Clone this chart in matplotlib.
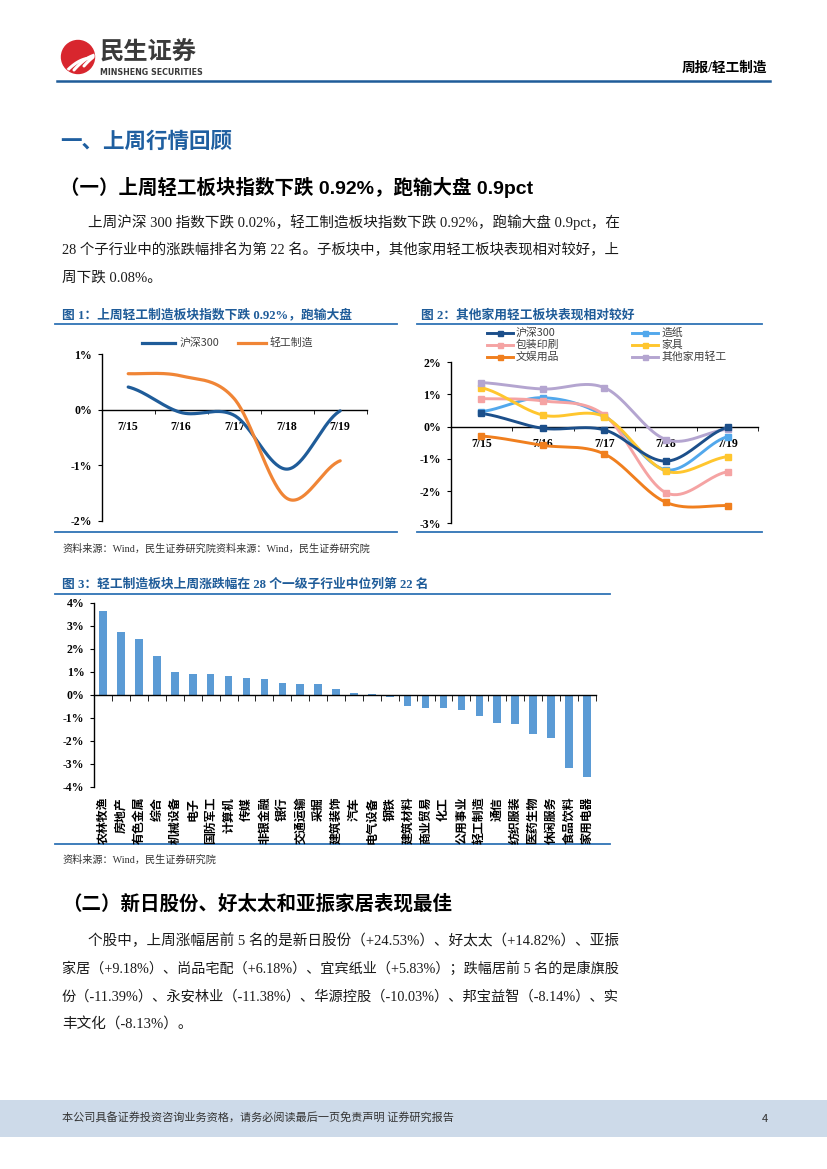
"""
Weekly light-industry report page: three charts plus surrounding text.
"""
import numpy as np
import matplotlib
matplotlib.use("Agg")
import matplotlib.pyplot as plt
import matplotlib.transforms as mtransforms
from matplotlib.patches import Circle, Rectangle

W, H = 827, 1169

plt.rcParams['font.family'] = ['Noto Sans CJK SC', 'DejaVu Sans']
plt.rcParams['axes.unicode_minus'] = False

SERIF = ['Liberation Serif', 'Noto Sans CJK SC']
SANS = ['Liberation Sans', 'Noto Sans CJK SC']

# ---- data ----
dates = ['7/15', '7/16', '7/17', '7/18', '7/19']

fig1_names = ['沪深300', '轻工制造']
fig1_hs300 = [0.41, -0.05, -0.10, -1.07, -0.02]
fig1_light = [0.65, 0.61, 0.20, -1.60, -0.92]

fig2_names = ['沪深300', '造纸', '包装印刷', '家具', '文娱用品', '其他家用轻工']
fig2_hs300 = [0.41, -0.05, -0.10, -1.07, -0.02]
fig2_paper = [0.47, 0.90, 0.33, -1.34, -0.31]
fig2_pack = [0.87, 0.80, 0.36, -2.05, -1.40]
fig2_furn = [1.21, 0.36, 0.31, -1.38, -0.93]
fig2_ent = [-0.29, -0.58, -0.85, -2.35, -2.45]
fig2_other = [1.37, 1.17, 1.21, -0.40, -0.08]

industries = ['农林牧渔', '房地产', '有色金属', '综合', '机械设备', '电子', '国防军工',
              '计算机', '传媒', '非银金融', '银行', '交通运输', '采掘', '建筑装饰',
              '汽车', '电气设备', '钢铁', '建筑材料', '商业贸易', '化工', '公用事业',
              '轻工制造', '通信', '纺织服装', '医药生物', '休闲服务', '食品饮料', '家用电器']
industry_chg = [3.62, 2.72, 2.42, 1.70, 1.00, 0.91, 0.90, 0.81, 0.71, 0.70, 0.49,
                0.48, 0.45, 0.26, 0.07, 0.04, -0.12, -0.51, -0.57, -0.59, -0.67,
                -0.92, -1.23, -1.26, -1.72, -1.90, -3.19, -3.57]

fig1_colors = ['#1F5C99', '#F08536']
fig2_colors = ['#1C4F8A', '#52A8EC', '#F5A3A3', '#FFC62E', '#F07F1E', '#B4A5D0']

para1 = ['上周沪深 300 指数下跌 0.02%，轻工制造板块指数下跌 0.92%，跑输大盘 0.9pct，在',
         '28 个子行业中的涨跌幅排名为第 22 名。子板块中，其他家用轻工板块表现相对较好，上',
         '周下跌 0.08%。']
para2 = ['个股中，上周涨幅居前 5 名的是新日股份（+24.53%）、好太太（+14.82%）、亚振',
         '家居（+9.18%）、尚品宅配（+6.18%）、宜宾纸业（+5.83%）；跌幅居前 5 名的是康旗股',
         '份（-11.39%）、永安林业（-11.38%）、华源控股（-10.03%）、邦宝益智（-8.14%）、实',
         '丰文化（-8.13%）。']


def smooth(y, n=40):
    """Catmull-Rom path through the points, like Excel's smoothed line."""
    p = np.concatenate([[y[0]], np.asarray(y, float), [y[-1]]])
    xs, ys = [], []
    t = np.linspace(0, 1, n)
    for i in range(len(y) - 1):
        p0, p1, p2, p3 = p[i], p[i + 1], p[i + 2], p[i + 3]
        seg = 0.5 * (2 * p1 + (-p0 + p2) * t + (2 * p0 - 5 * p1 + 4 * p2 - p3) * t ** 2
                     + (-p0 + 3 * p1 - 3 * p2 + p3) * t ** 3)
        xs.append(i + t)
        ys.append(seg)
    return np.concatenate(xs), np.concatenate(ys)


def px_axes(x0, y0, x1, y1):
    return fig.add_axes([x0 / W, 1 - y1 / H, (x1 - x0) / W, (y1 - y0) / H])


def pct(v, _):
    return '%d%%' % v


def paragraph(lines, y0, right=620, size=10.5, step=28):
    """Write justified-looking lines: shrink a full line to end at the right margin."""
    renderer = fig.canvas.get_renderer()
    for i, line in enumerate(lines):
        x0 = 88 if i == 0 else 62
        t = page.text(x0, y0 + step * i, line, fontsize=size, family=SERIF,
                      va='center', color='#1A1A1A')
        if i < len(lines) - 1:
            width = t.get_window_extent(renderer).width
            t.set_fontsize(size * (right - x0) / width)


fig = plt.figure(figsize=(W / 100, H / 100), dpi=100)

# page layer in pixel coordinates
page = fig.add_axes([0, 0, 1, 1])
page.set_xlim(0, W)
page.set_ylim(H, 0)
page.axis('off')

# header
logo = Circle((78, 57), 16.5, color='#D8262E')
page.add_patch(logo)
for k in range(3):
    s = np.linspace(0, 1, 30)
    lx = 64 + 10 * k + 26 * s
    ly = 74 - 4 * k - 30 * s + 14 * s ** 2
    ln, = page.plot(lx, ly, color='white', lw=2.2, solid_capstyle='round')
    ln.set_clip_path(logo)
page.text(100, 53, '民生证券', fontsize=17.5, fontweight='bold', color='#3A3A3A',
          va='center', ha='left')
page.text(100, 72.5, 'MINSHENG SECURITIES', fontsize=5.7, fontweight='bold',
          color='#3A3A3A', family='DejaVu Sans', va='center')
page.text(767, 68, '周报/轻工制造', fontsize=9.8, fontweight='bold', family=SERIF,
          ha='right', va='center', color='black')
page.plot([57, 770], [81, 81], color='#1F5C99', lw=1.8)

# section headings and text
page.text(60, 141, '一、上周行情回顾', fontsize=15.5, fontweight='bold',
          color='#1F5FA0', va='center')
page.text(60, 187, '（一）上周轻工板块指数下跌 0.92%，跑输大盘 0.9pct', fontsize=14,
          fontweight='bold', family=SANS, va='center', color='black')
paragraph(para1, 222)

page.text(62, 904, '（二）新日股份、好太太和亚振家居表现最佳', fontsize=14,
          fontweight='bold', va='center', color='black')
paragraph(para2, 941)

# figure titles and rules
title_kw = dict(fontsize=9.2, fontweight='bold', family=SERIF, color='#1F5C99',
                va='center')
page.text(62, 315, '图 1：上周轻工制造板块指数下跌 0.92%，跑输大盘', **title_kw)
page.text(421, 315, '图 2：其他家用轻工板块表现相对较好', **title_kw)
page.text(62, 585, '图 3：轻工制造板块上周涨跌幅在 28 个一级子行业中位列第 22 名',
          **title_kw)
rule = dict(color='#2F73B5', lw=1.3)
page.plot([55, 397], [324, 324], **rule)
page.plot([55, 397], [532, 532], **rule)
page.plot([417, 762], [324, 324], **rule)
page.plot([417, 762], [532, 532], **rule)
page.plot([55, 610], [594, 594], **rule)
page.plot([55, 610], [844, 844], **rule)

src_kw = dict(fontsize=7.3, family=SERIF, color='#333333', va='center')
page.text(62, 549, '资料来源：Wind，民生证券研究院资料来源：Wind，民生证券研究院', **src_kw)
page.text(62, 860, '资料来源：Wind，民生证券研究院', **src_kw)

# footer
page.add_patch(Rectangle((0, 1100), W, 37, color='#CDDAE9', lw=0))
page.text(62, 1118.5, '本公司具备证券投资咨询业务资格，请务必阅读最后一页免责声明 证券研究报告',
          fontsize=8, color='#333333', va='center')
page.text(765, 1118.5, '4', fontsize=8, color='#333333', va='center', ha='center')

tick_font = dict(family='Liberation Serif', weight='bold', size=8.5)


def style_line_axes(ax, ymin, ymax, xpad):
    ax.set_xlim(-0.5, len(dates) - 0.5)
    ax.set_ylim(ymin, ymax)
    for s in ('top', 'right'):
        ax.spines[s].set_visible(False)
    ax.spines['bottom'].set_position(('data', 0))
    ax.spines['left'].set_linewidth(1.0)
    ax.spines['bottom'].set_linewidth(1.0)
    ax.set_yticks(range(ymin, ymax + 1))
    ax.yaxis.set_major_formatter(pct)
    ax.set_xticks(range(len(dates)))
    ax.set_xticklabels(dates)
    ax.set_xticks(np.arange(-0.5, len(dates), 1), minor=True)
    ax.tick_params(axis='x', which='major', length=0, pad=xpad)
    ax.tick_params(axis='x', which='minor', length=3, direction='out')
    ax.tick_params(axis='y', length=3, direction='out', pad=4)
    for lab in ax.get_xticklabels() + ax.get_yticklabels():
        lab.set_fontproperties(tick_font)
    ax.patch.set_alpha(0)


# ---- figure 1 ----
ax1 = px_axes(101.7, 354.3, 366.7, 520.7)
style_line_axes(ax1, -2, 1, 8)
for vals, c in zip([fig1_hs300, fig1_light], fig1_colors):
    sx, sy = smooth(vals)
    ax1.plot(sx, sy, color=c, lw=2.3, solid_capstyle='round', zorder=3)

for (x0, x1, xt), name, c in zip([(141.7, 175, 180), (238, 266, 270)], fig1_names,
                                 fig1_colors):
    page.plot([x0, x1], [342.7, 342.7], color=c, lw=2.3)
    page.text(xt, 342.7, name, fontsize=7.8, color='#404040', va='center')

# ---- figure 2 ----
ax2 = px_axes(450.7, 362.3, 758.3, 523.3)
style_line_axes(ax2, -3, 2, 8)
fig2_series = [fig2_hs300, fig2_paper, fig2_pack, fig2_furn, fig2_ent, fig2_other]
order = [1, 2, 3, 4, 5, 0]
for k in order:
    vals, c = fig2_series[k], fig2_colors[k]
    sx, sy = smooth(vals)
    ax2.plot(sx, sy, color=c, lw=2.1, zorder=3)
    ax2.plot(range(len(dates)), vals, 's', color=c, ms=4.2, zorder=4)

leg_pos = [(486.7, 513.3, 516, 332.7), (631.7, 658.3, 661.7, 332.7),
           (486.7, 513.3, 516, 344.5), (631.7, 658.3, 661.7, 344.5),
           (486.7, 513.3, 516, 356.5), (631.7, 658.3, 661.7, 356.5)]
for (x0, x1, xt, y), name, c in zip(leg_pos, fig2_names, fig2_colors):
    page.plot([x0, x1], [y, y], color=c, lw=2.1)
    page.plot([(x0 + x1) / 2], [y], 's', color=c, ms=3.6)
    page.text(xt, y, name, fontsize=7.8, color='#404040', va='center')

# ---- figure 3 ----
ax3 = px_axes(94.3, 602.7, 595.7, 786.7)
xs = np.arange(len(industries))
ax3.bar(xs, industry_chg, width=0.42, color='#5B9BD5', zorder=2)
ax3.set_xlim(-0.5, len(industries) - 0.5)
ax3.set_ylim(-4, 4)
for s in ('top', 'right'):
    ax3.spines[s].set_visible(False)
ax3.spines['bottom'].set_position(('data', 0))
ax3.spines['left'].set_linewidth(1.0)
ax3.spines['bottom'].set_linewidth(1.0)
ax3.set_yticks(range(-4, 5))
ax3.yaxis.set_major_formatter(pct)
ax3.set_xticks([])
ax3.set_xticks(np.arange(-0.5, len(industries), 1), minor=True)
ax3.tick_params(axis='x', which='minor', length=4, direction='out')
ax3.tick_params(axis='y', length=3, direction='out', pad=4)
for lab in ax3.get_yticklabels():
    lab.set_fontproperties(tick_font)
ax3.patch.set_alpha(0)

label_y = -(797 - 786.7) / (786.7 - 602.7)
trans = mtransforms.blended_transform_factory(ax3.transData, ax3.transAxes)
for x, name in zip(xs, industries):
    ax3.text(x, label_y, name, transform=trans, rotation=90, ha='center', va='top',
             fontsize=8.6, fontweight='bold', color='black', clip_on=False)

fig.savefig('out.png', dpi=100)
